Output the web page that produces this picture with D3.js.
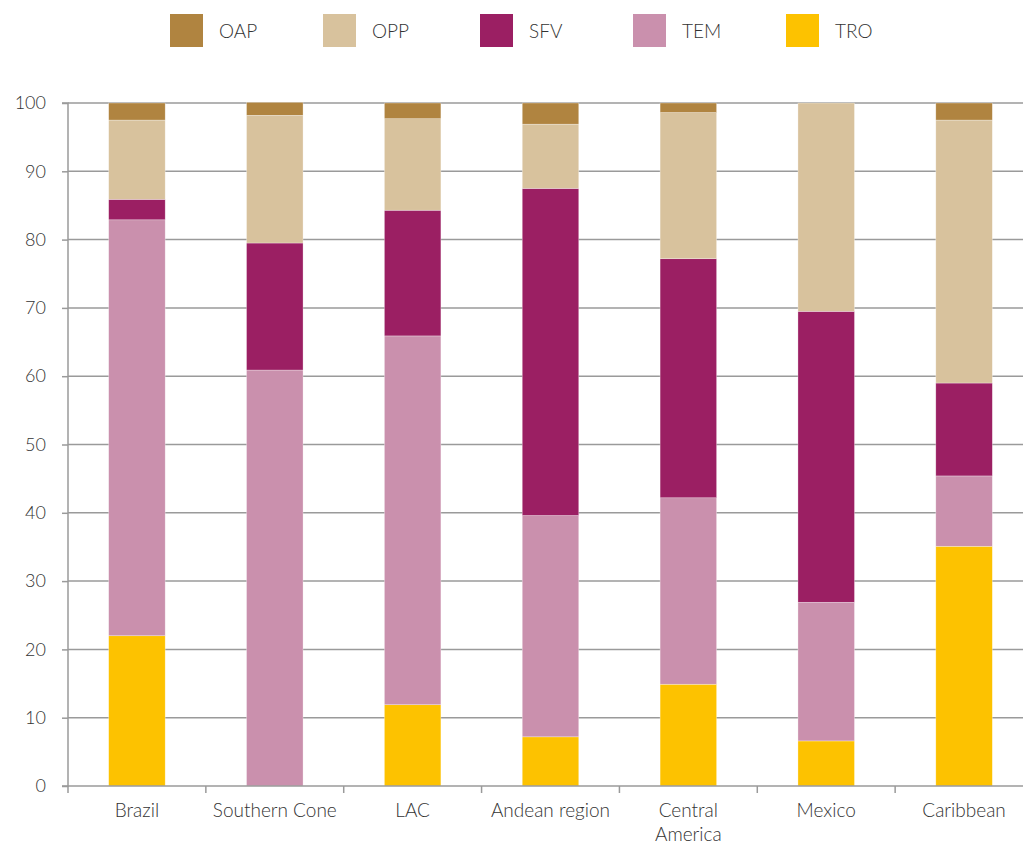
<!DOCTYPE html>
<html><head><meta charset="utf-8">
<script src="https://cdn.jsdelivr.net/npm/d3@7"></script>
<style>body{margin:0;background:#fff}svg{display:block}text{font-family:Lato,"Open Sans",sans-serif;font-weight:300;fill:#333}</style>
</head><body><svg id="c" width="1023" height="845"></svg>
<script>
const categories = ["Brazil","Southern Cone","LAC","Andean region","Central America","Mexico","Caribbean"];
const seriesNames = ["TRO","TEM","SFV","OPP","OAP"];
const TRO = [22.0, 0, 11.9, 7.2, 14.9, 6.6, 35.1];
const TEM = [60.9, 60.9, 54.0, 32.4, 27.3, 20.3, 10.3];
const SFV = [3.0, 18.6, 18.4, 47.9, 35.0, 42.6, 13.6];
const OPP = [11.6, 18.7, 13.4, 9.4, 21.4, 30.5, 38.5];
const OAP = [2.5, 1.9, 2.3, 3.1, 1.4, 0, 2.5];
const yTicks = [0,10,20,30,40,50,60,70,80,90,100];
const legendOrder = ["OAP","OPP","SFV","TEM","TRO"];
const colors = {OAP:"#B08440",OPP:"#D8C29D",SFV:"#9B1F63",TEM:"#CA90AD",TRO:"#FDC200"};

const svg = d3.select("#c");
const m = {left:68, top:103, bottom:786, right:1033};
const x = d3.scaleBand().domain(categories).range([m.left, m.right]).paddingInner(0.59).paddingOuter(0.295);
const xb = d3.scaleBand().domain(categories).range([m.left, m.right]);
const y = d3.scaleLinear().domain([0,100]).range([m.bottom, m.top]);

// gridlines
svg.append("g").selectAll("line").data(yTicks.filter(d=>d>0)).join("line")
  .attr("x1", m.left).attr("x2", 1023).attr("y1", d=>y(d)).attr("y2", d=>y(d))
  .attr("stroke","#9a9a9a").attr("stroke-width",1.5);

// data table
const table = categories.map((c,i)=>({cat:c, TRO:TRO[i], TEM:TEM[i], SFV:SFV[i], OPP:OPP[i], OAP:OAP[i]}));
const stack = d3.stack().keys(seriesNames)(table);
svg.append("g").selectAll("g").data(stack).join("g")
  .attr("fill", d=>colors[d.key])
  .selectAll("rect").data(d=>d).join("rect")
  .attr("x", d=>x(d.data.cat)).attr("width", x.bandwidth())
  .attr("y", d=>y(d[1])).attr("height", d=>Math.max(0, y(d[0])-y(d[1])))
  .attr("stroke", d=> (d[1]-d[0])>0 ? "#ffffff" : "none").attr("stroke-opacity",0.5).attr("stroke-width",0.6);

// y axis
const ya = svg.append("g").attr("transform",`translate(${m.left},0)`)
  .call(d3.axisLeft(y).tickValues(yTicks).tickSize(6).tickPadding(16));
ya.select(".domain").attr("stroke","#9a9a9a").attr("stroke-width",1.5).attr("d",`M-6,${m.bottom}H0V${m.top}H-6`);
ya.selectAll(".tick line").attr("stroke","#9a9a9a").attr("stroke-width",1.5);
ya.selectAll(".tick text").style("font-size","18px").style("font-family","Lato, sans-serif").style("font-weight","300").attr("fill","#333");

// x axis
const xa = svg.append("g").attr("transform",`translate(0,${m.bottom})`);
xa.append("line").attr("x1",m.left).attr("x2",1023).attr("y1",0).attr("y2",0).attr("stroke","#9a9a9a").attr("stroke-width",1.5);
xa.selectAll("line.t").data(categories).join("line").attr("class","t")
  .attr("x1",d=>xb(d)).attr("x2",d=>xb(d)).attr("y1",0).attr("y2",7).attr("stroke","#9a9a9a").attr("stroke-width",1.5);
const labels = xa.selectAll("text").data(categories).join("text")
  .attr("text-anchor","middle").attr("x",d=>x(d)+x.bandwidth()/2).attr("y",31)
  .style("font-size","19px").attr("fill","#333");
labels.each(function(d){
  const t = d3.select(this);
  const lines = d==="Central America" ? ["Central","America"] : [d];
  lines.forEach((l,i)=>t.append("tspan").attr("x", x(d)+x.bandwidth()/2).attr("dy", i===0?0:24).text(l));
});

// legend
const lg = svg.append("g");
const lx = [170,323,480,633,786];
legendOrder.forEach((k,i)=>{
  lg.append("rect").attr("x",lx[i]).attr("y",14).attr("width",33).attr("height",33).attr("fill",colors[k]);
  lg.append("text").attr("x",lx[i]+49).attr("y",31).attr("dy","0.35em").style("font-size","19px").attr("fill","#333").text(k);
});
</script></body></html>
